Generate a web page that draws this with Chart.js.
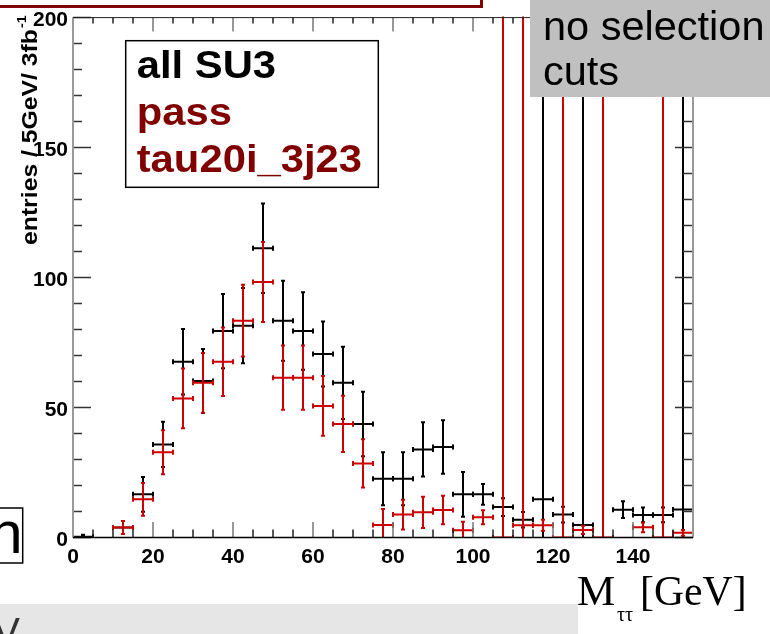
<!DOCTYPE html>
<html>
<head>
<meta charset="utf-8">
<script src="https://cdn.jsdelivr.net/npm/chart.js@4"></script>
<style>
html,body{margin:0;padding:0;background:#fff;}
#wrap{width:770px;height:634px;position:relative;}
</style>
</head>
<body>
<div id="wrap"><canvas id="c" width="770" height="634"></canvas></div>
<script>
// ---- data (5 GeV bins, centres) ----
const binCenters = [2.5,7.5,12.5,17.5,22.5,27.5,32.5,37.5,42.5,47.5,52.5,57.5,62.5,67.5,72.5,77.5,82.5,87.5,92.5,97.5,102.5,107.5,112.5,117.5,122.5,127.5,132.5,137.5,142.5,147.5,152.5];
const allValues  = [0.3,null,3.8,16.6,35.8,67.6,60.2,79.4,81.5,111.3,83.4,79.4,70.6,59.5,43.7,22.6,22.6,33.9,34.8,16.6,16.6,11.7,6.8,14.7,8.8,4.8,null,10.7,8.7,8.7,10.8];
const allErrors  = [0.8,0,2.5,6.7,8.7,12.6,12.3,14.3,14.5,17.2,15.4,14.9,12.5,13.9,12.4,10.2,10.2,10.4,10.3,8.6,4.0,3.4,3.0,300,3.0,300,0,3.2,2.8,2.8,300];
const passValues = [null,null,3.8,14.7,32.8,53.5,59.5,67.6,83.4,98.3,61.5,61.5,50.6,43.7,28.5,4.8,8.8,9.7,10.6,2.8,7.8,0,4.7,4.7,0,2.9,0,null,3.9,0,1.8];
const passErrors = [0,0,2.5,6.3,8.5,11.5,11.5,13.2,13.8,15.4,12.4,12.4,11.5,10.8,9.3,6.2,5.7,6.0,5.5,3.3,2.7,300,300,2.1,300,1.6,300,0,1.9,300,1.1];
const binHalfWidth = 2.5;
const xTickValues = [0,20,40,60,80,100,120,140];
const yTickValues = [0,50,100,150,200];
const legendLines = [["all SU3","#000000"],["pass","#800000"],["tau20i_3j23","#800000"]];

const SANS = "'Liberation Sans', Arial, sans-serif";
const SERIF = "'Liberation Serif', 'Times New Roman', serif";

function txt(ctx, s, x, y, font, color, sx, align){
  ctx.save();
  ctx.font = font; ctx.fillStyle = color; ctx.textBaseline = 'alphabetic';
  ctx.translate(x, y); ctx.scale(sx||1, 1);
  ctx.textAlign = align || 'left';
  ctx.fillText(s, 0, 0);
  ctx.restore();
}

const rootPlugin = {
  id: 'rootStyle',
  afterDatasetsDraw(chart){
    const ctx = chart.ctx, a = chart.chartArea;
    const xs = chart.scales.x, ys = chart.scales.y;
    // error bars
    ctx.save();
    ctx.beginPath(); ctx.rect(a.left, a.top-1, a.right-a.left, a.bottom-a.top+1); ctx.clip();
    chart.data.datasets.forEach(ds => {
      ctx.strokeStyle = ds.borderColor; ctx.lineWidth = 2; ctx.lineCap = 'butt';
      ds.data.forEach((p, i) => {
        if (p.y === null) return;
        const e = ds.errors[i];
        const xl = xs.getPixelForValue(p.x - binHalfWidth), xr = xs.getPixelForValue(p.x + binHalfWidth);
        const xc = xs.getPixelForValue(p.x), yc = ys.getPixelForValue(p.y);
        const yt = ys.getPixelForValue(p.y + e), yb = ys.getPixelForValue(Math.max(p.y - e, 0));
        ctx.beginPath();
        ctx.moveTo(xl, yc); ctx.lineTo(xr, yc);
        ctx.moveTo(xl, yc-2.5); ctx.lineTo(xl, yc+2.5);
        ctx.moveTo(xr, yc-2.5); ctx.lineTo(xr, yc+2.5);
        if (e > 0){
          ctx.moveTo(xc, yt); ctx.lineTo(xc, yb);
          ctx.moveTo(xc-2, yt); ctx.lineTo(xc+2, yt);
          if (p.y - e > 0){ ctx.moveTo(xc-2, yb); ctx.lineTo(xc+2, yb); }
        }
        ctx.stroke();
      });
    });
    ctx.restore();
    // frame & ticks
    ctx.save();
    ctx.lineWidth = 1.5; ctx.strokeStyle = '#222';
    for (let v = 0; v <= xs.max; v += 5){
      const px = xs.getPixelForValue(v);
      const major = v % 20 === 0;
      ctx.strokeStyle = major ? '#777' : '#222';
      ctx.beginPath();
      ctx.moveTo(px, a.bottom); ctx.lineTo(px, a.bottom - (major ? 15.5 : 8));
      ctx.moveTo(px, a.top); ctx.lineTo(px, a.top + (major ? 14 : 6));
      ctx.stroke();
    }
    for (let v = 0; v <= ys.max; v += 10){
      const py = ys.getPixelForValue(v);
      const major = v % 50 === 0;
      ctx.strokeStyle = '#333';
      ctx.beginPath();
      ctx.moveTo(a.left, py); ctx.lineTo(a.left + (major ? 18 : 9), py);
      ctx.moveTo(a.right, py); ctx.lineTo(a.right - (major ? 18 : 10), py);
      ctx.stroke();
    }
    ctx.lineWidth = 2; ctx.strokeStyle = '#999';
    ctx.beginPath(); ctx.moveTo(a.left, a.top); ctx.lineTo(a.left, a.bottom); ctx.stroke();
    ctx.beginPath(); ctx.moveTo(a.right, a.top); ctx.lineTo(a.right, a.bottom); ctx.stroke();
    ctx.lineWidth = 1.5; ctx.strokeStyle = '#000';
    ctx.beginPath(); ctx.moveTo(a.left, a.bottom); ctx.lineTo(a.right, a.bottom); ctx.stroke();
    ctx.lineWidth = 1; ctx.strokeStyle = '#222';
    ctx.beginPath(); ctx.moveTo(a.left, a.top); ctx.lineTo(a.right, a.top); ctx.stroke();
    ctx.restore();
  },
  afterDraw(chart){
    const ctx = chart.ctx;
    ctx.save();
    // y-axis title
    ctx.save();
    ctx.translate(36.5, 245); ctx.rotate(-Math.PI/2);
    ctx.font = "bold 22.5px " + SANS; ctx.fillStyle = '#000';
    ctx.save(); ctx.scale(1.1, 1);
    const t = "entries / 5GeV/ 3fb";
    ctx.fillText(t, 0, 0);
    const w = ctx.measureText(t).width;
    ctx.font = "bold 13px " + SANS;
    ctx.fillText("-1", w + 1, -11);
    ctx.restore();
    ctx.restore();
    // legend box
    ctx.fillStyle = '#fff'; ctx.fillRect(125.7, 40.7, 252.6, 146.6);
    ctx.lineWidth = 1.5; ctx.strokeStyle = '#000'; ctx.strokeRect(125.7, 40.7, 252.6, 146.6);
    const base = [77.7, 124.5, 171.7];
    legendLines.forEach((l, i) => txt(ctx, l[0], 136.7, base[i], "bold 38px " + SANS, l[1], 1.1));
    // dark red box edge at top
    ctx.lineWidth = 3; ctx.strokeStyle = '#800000';
    ctx.strokeRect(-10, -20, 491.5, 26.5);
    // grey "no selection cuts" box
    ctx.fillStyle = '#c0c0c0'; ctx.fillRect(530, 0, 240, 97);
    txt(ctx, "no selection", 543, 40, "41.5px " + SANS, '#000', 1);
    txt(ctx, "cuts", 543, 85, "41.5px " + SANS, '#000', 1);
    // "n" box at left
    ctx.fillStyle = '#fff'; ctx.fillRect(-5, 508, 27.7, 55);
    ctx.lineWidth = 1.5; ctx.strokeStyle = '#000'; ctx.strokeRect(-5, 508, 27.7, 55);
    txt(ctx, "n", 22.5, 553, "60px " + SANS, '#000', 1, 'right');
    // light grey bottom box
    ctx.fillStyle = '#e6e6e6'; ctx.fillRect(0, 604, 578, 30);
    txt(ctx, "V", 20, 646, "40px " + SANS, '#333', 1, 'right');
    // M_tautau [GeV]
    txt(ctx, "M", 577, 605, "43px " + SERIF, '#000', 1);
    txt(ctx, "\u03c4\u03c4", 617, 621, "20px " + SERIF, '#000', 1);
    txt(ctx, "[GeV]", 640, 605, "43px " + SERIF, '#000', 0.97);
    ctx.restore();
  }
};

const tickFont = {family: SANS, weight: 'bold', size: 21};
new Chart(document.getElementById('c'), {
  type: 'scatter',
  data: {
    datasets: [
      {label: 'all SU3', data: binCenters.map((x,i)=>({x, y: allValues[i]})), errors: allErrors, borderColor: '#000000', backgroundColor: '#000000', pointRadius: 0, showLine: false},
      {label: 'pass tau20i_3j23', data: binCenters.map((x,i)=>({x, y: passValues[i]})), errors: passErrors, borderColor: '#cc0000', backgroundColor: '#cc0000', pointRadius: 0, showLine: false}
    ]
  },
  options: {
    responsive: false, animation: false, devicePixelRatio: 1,
    layout: {padding: {left: 0, right: 77, top: 17.5, bottom: 0}},
    plugins: {legend: {display: false}, tooltip: {enabled: false}},
    scales: {
      x: {
        type: 'linear', min: 0, max: 155,
        afterFit(s){ s.height = 96.5; },
        afterBuildTicks(s){ s.ticks = xTickValues.map(v => ({value: v})); },
        grid: {display: false, drawTicks: false}, border: {display: false},
        ticks: {padding: 7, font: tickFont, color: '#000', maxRotation: 0, autoSkip: false}
      },
      y: {
        type: 'linear', min: 0, max: 200,
        afterFit(s){ s.width = 73; },
        afterBuildTicks(s){ s.ticks = yTickValues.map(v => ({value: v})); },
        grid: {display: false, drawTicks: false}, border: {display: false},
        ticks: {padding: 5, labelOffset: 3, font: tickFont, color: '#000', autoSkip: false}
      }
    }
  },
  plugins: [rootPlugin]
});
</script>
</body>
</html>
